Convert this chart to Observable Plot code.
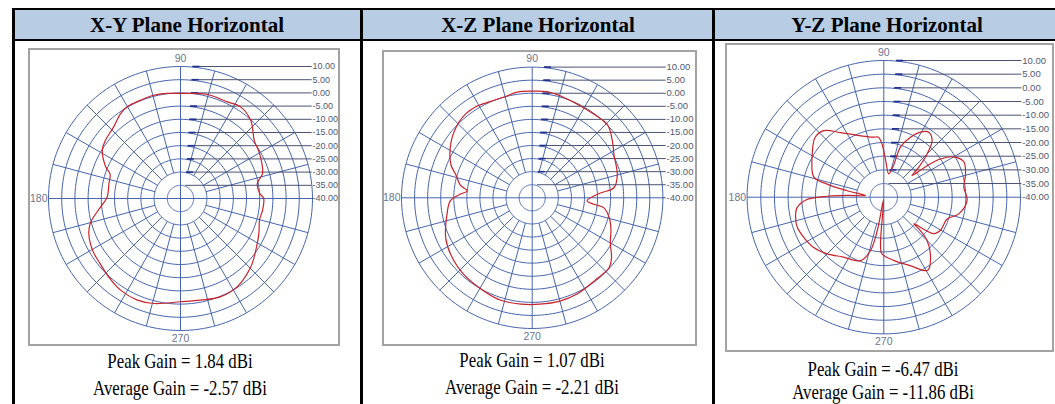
<!DOCTYPE html>
<html><head><meta charset="utf-8">
<script src="https://cdn.jsdelivr.net/npm/d3@7"></script>
<script src="https://cdn.jsdelivr.net/npm/@observablehq/plot@0.6"></script>
<style>
html,body{margin:0;padding:0;background:#fff;overflow:hidden;width:1055px;height:404px;}
#page{position:relative;width:1055px;height:404px;overflow:hidden;background:#fff;}
.bl{position:absolute;background:#000;}
.hdr{position:absolute;background:#b8cce4;}
.htxt{position:absolute;font-family:"Liberation Serif","Times New Roman",serif;font-weight:bold;font-size:21px;white-space:nowrap;line-height:21px;transform:translate(-50%,-50%);color:#000;}
.cap{position:absolute;font-family:"Liberation Serif","Times New Roman",serif;font-size:21px;white-space:nowrap;line-height:21px;transform:translate(-50%,-50%) scaleX(0.8);color:#000;}
.frame{position:absolute;border:2px solid #a3a3a3;box-sizing:border-box;background:#fff;overflow:hidden;}
.frame svg{display:block;}
</style></head><body><div id="page"></div>
<script>
// ---------- data ----------
const titles = ["X-Y Plane Horizontal", "X-Z Plane Horizontal", "Y-Z Plane Horizontal"];
const peakGain = ["1.84", "1.07", "-6.47"];
const avgGain = ["-2.57", "-2.21", "-11.86"];

const ringLevels = [-35, -30, -25, -20, -15, -10, -5, 0, 5, 10];
const tickLevels = [10, 5, 0, -5, -10, -15, -20, -25, -30, -35, -40];
const tickLabels = ["10.00", "5.00", "0.00", "-5.00", "-10.00", "-15.00", "-20.00", "-25.00", "-30.00", "-35.00", "-40.00"];
const angleLabelValues = [90, 180, 270];
const angleLabels = ["90", "180", "270"];
const spokeStep = 15;

// X-Y plane (angle deg, gain dBi)
const xyAngles = [0, 4, 11, 17, 30, 38, 48, 57, 64, 76, 90, 97, 105, 112, 120, 125, 133, 142, 148, 157, 161, 168, 179, 186, 195, 201, 211, 219, 229, 237, 247, 256, 270, 281, 292, 303, 316, 326, 336, 345, 352];
const xyGain = [-8.5, -10.0, -10.4, -7.5, -5.5, -4.5, -0.2, 1.5, 0.7, 0.7, -0.2, 0.1, 0.4, 0.2, 0.2, -0.6, -2.9, -4.0, -5.1, -9.2, -11.8, -12.3, -12.2, -9.6, -4.7, -2.8, -1.3, -0.8, 0.5, 1.5, 1.8, 1.0, -0.9, -0.8, 0.2, -0.3, -2.9, -5.5, -7.5, -9.0, -8.6];

// X-Z plane
const xzAngles = [4, 7, 15, 28, 35, 44, 54, 64, 74, 82, 90, 98, 106, 115, 122, 128, 134, 145, 158, 163, 170, 174, 177, 182, 191, 205, 215, 228, 243, 253, 264, 274, 285, 295, 307, 318, 323, 330, 338, 345, 352, 354, 357];
const xzGain = [-13.8, -8.5, -6.3, -4.6, -2.5, 0.1, -0.3, -0.3, 0.4, 1.0, 0.8, 0.8, 0.0, 0.3, 1.0, 1.0, 0.3, -2.2, -6.5, -9.4, -12.1, -15.0, -12.6, -8.7, -6.8, -3.5, -2.0, -0.7, 0.2, 1.0, 0.9, 0.8, 0.9, 0.6, -0.3, -0.3, -2.0, -5.5, -7.5, -9.4, -12.3, -16.3, -19.0];

// Y-Z plane
const yzAngles = [7, 16, 24, 30, 34, 36, 37.4, 40.6, 45, 49.5, 55.3, 60.6, 66, 71.6, 73, 78, 87, 92, 95, 100, 113, 124, 132, 139, 151, 164, 167, 170, 175, 177, 179, 182, 187, 193, 199, 207, 216, 225, 236, 250, 256, 259, 264, 266, 268, 279, 291, 301, 308, 315, 317.7, 318.6, 324, 330, 341, 347.5, 358];
const yzGain = [-10.5, -8.9, -8.0, -10.5, -15.0, -20.4, -27.0, -23.2, -17.6, -12.8, -11.1, -12.7, -16.0, -20.7, -28.0, -31.3, -26.6, -20.5, -18.0, -17.7, -15.4, -11.5, -7.2, -6.7, -10.0, -13.4, -18.7, -26.4, -33.3, -26.6, -19.5, -11.5, -8.0, -6.9, -6.5, -7.3, -8.5, -10.7, -13.6, -15.3, -19.9, -27.6, -39.0, -22.9, -19.3, -16.6, -13.2, -8.8, -12.2, -17.6, -22.0, -25.3, -17.3, -16.0, -15.5, -11.9, -9.5];

// ---------- layout ----------
const layouts = [
  {left: 28, top: 48, w: 312, h: 298, cx: 180, cy: 198, R: 132, labelX: 312, tickFont: 9, colX: 187, cap1: 361, cap2: 388},
  {left: 382, top: 50, w: 315, h: 296, cx: 531.7, cy: 197.3, R: 130.7, labelX: 666, tickFont: 9.5, colX: 538, cap1: 360, cap2: 387},
  {left: 725, top: 43, w: 329, h: 309, cx: 883.3, cy: 196.7, R: 136.7, labelX: 1021.7, tickFont: 9.5, colX: 887, cap1: 369, cap2: 392}
];
const series = [[xyAngles, xyGain], [xzAngles, xzGain], [yzAngles, yzGain]];

const page = document.getElementById("page");
function div(cls, style, text) {
  const d = document.createElement("div");
  d.className = cls;
  Object.assign(d.style, style);
  if (text != null) d.textContent = text;
  page.appendChild(d);
  return d;
}

// table structure
div("hdr", {left: "15px", top: "10px", width: "1045px", height: "29px"});
div("bl", {left: "12px", top: "8px", width: "1050px", height: "2px"});
div("bl", {left: "12px", top: "39px", width: "1050px", height: "2px"});
div("bl", {left: "12px", top: "8px", width: "3px", height: "400px"});
div("bl", {left: "360px", top: "8px", width: "3px", height: "400px"});
div("bl", {left: "712px", top: "8px", width: "3px", height: "400px"});

const GRID = "#4765ad";
const LABEL_FONT = "Liberation Sans, Arial, sans-serif";
const rad = a => a * Math.PI / 180;
const u = v => Math.max(0, v + 40);
const px = a => u(10) * Math.cos(rad(a));
const py = a => u(10) * Math.sin(rad(a));

function polarChart(angles, gains, L) {
  const B = 2;
  const w = L.w - 2 * B, h = L.h - 2 * B;
  const k = L.R / 50;
  const cxr = L.cx - L.left - B, cyr = L.cy - L.top - B;
  const ringPts = ringLevels.flatMap(l => d3.range(0, 361, 2).map(a => ({l, a})));
  const spokes = d3.range(0, 360, spokeStep).filter(a => a % 90 !== 0);
  const pattern = angles.map((a, i) => ({a, g: gains[i]}));
  const labelXu = (L.labelX - L.cx) / k;
  const startU = l => 4 / k + u(l) * 0.06;
  const angText = (a, opts) => Plot.text([a], {x: px, y: py, text: () => angleLabels[angleLabelValues.indexOf(a)], fill: "#6a7690", fontSize: 10.5, fontFamily: LABEL_FONT, ...opts});
  return Plot.plot({
    width: w, height: h, margin: 0,
    style: {background: "transparent"},
    x: {domain: [-cxr / k, (w - cxr) / k], range: [0, w], axis: null},
    y: {domain: [-(h - cyr) / k, cyr / k], range: [h, 0], axis: null},
    marks: [
      Plot.line(ringPts, {x: d => u(d.l) * Math.cos(rad(d.a)), y: d => u(d.l) * Math.sin(rad(d.a)), z: "l", stroke: GRID, strokeWidth: 1}),
      Plot.link(spokes, {x1: a => u(-30) * Math.cos(rad(a)), y1: a => u(-30) * Math.sin(rad(a)), x2: px, y2: py, stroke: GRID, strokeWidth: 1}),
      Plot.link([0, 90], {x1: a => -px(a), y1: a => -py(a), x2: px, y2: py, stroke: GRID, strokeWidth: 1}),
      Plot.link(tickLevels, {x1: l => l === -40 ? u(10) : startU(l), y1: l => u(l), x2: labelXu - 0.3, y2: l => u(l), stroke: "#4a5270", strokeWidth: 1}),
      Plot.link(tickLevels.filter(l => l > -35), {x1: l => startU(l), y1: l => u(l), x2: l => startU(l) + 7 / k, y2: l => u(l), stroke: "#1f2f8f", strokeWidth: 1.6}),
      Plot.text(tickLevels, {x: labelXu, y: l => u(l), text: (l, i) => tickLabels[i], textAnchor: "start", fill: "#505a72", fontSize: L.tickFont, fontFamily: LABEL_FONT}),
      angText(90, {dy: -8}),
      angText(270, {dy: 8}),
      angText(180, {textAnchor: "end", dx: -1}),
      Plot.line(pattern, {x: d => u(d.g) * Math.cos(rad(d.a)), y: d => u(d.g) * Math.sin(rad(d.a)), curve: "catmull-rom-closed", stroke: "#c8232b", strokeWidth: 1.2})
    ]
  });
}

layouts.forEach((L, i) => {
  div("htxt", {left: L.colX + "px", top: "25px"}, titles[i]);
  const f = div("frame", {left: L.left + "px", top: L.top + "px", width: L.w + "px", height: L.h + "px"});
  f.appendChild(polarChart(series[i][0], series[i][1], L));
  div("cap", {left: (L.cx) + "px", top: L.cap1 + "px"}, `Peak Gain = ${peakGain[i]} dBi`);
  div("cap", {left: (L.cx) + "px", top: L.cap2 + "px"}, `Average Gain = ${avgGain[i]} dBi`);
});
</script></body></html>
